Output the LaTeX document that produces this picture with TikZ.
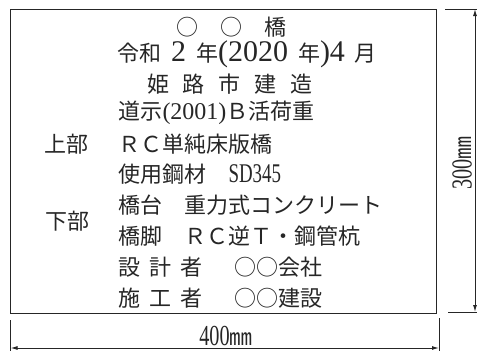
\documentclass[tikz,border=0pt]{standalone}
\usepackage{fontspec}
\setmainfont{Noto Sans CJK JP}
\newfontfamily\lat{Liberation Serif}
\newfontfamily\latn[FakeStretch=0.7]{Liberation Serif}
\usetikzlibrary{positioning,arrows.meta}

\begin{document}
\begin{tikzpicture}[x=1pt, y=-1pt, line width=1pt, color=black!85,
                    plate text/.style={anchor=west, inner sep=0pt, font=\fontsize{22}{22}\selectfont},
                    dim text/.style={inner sep=0pt, font=\fontsize{22}{22}\selectfont},
                    dim line/.style={{Latex[length=7pt,width=4pt]}-{Latex[length=7pt,width=4pt]}}]

  \useasboundingbox (0,0) rectangle (477,351);

  % plate outline
  \draw (10.5,9) rectangle (436,313);

  % heading
  \node[plate text, anchor=center] (name) at (231,27) {○　○　橋};
  \node[plate text, anchor=center] (date) at (247,54)
    {令和{\lat\fontsize{30}{30}\selectfont\hspace{10pt}2\hspace{10pt}}年{\lat\fontsize{30}{30}\selectfont(2020\hspace{10pt}}年{\lat\fontsize{30}{30}\selectfont)4\hspace{10pt}}月};
  \node[plate text, anchor=center] (city) at (230,84)
    {姫\hspace{14pt}路\hspace{14pt}市\hspace{14pt}建\hspace{14pt}造};

  % details
  \node[plate text] (load) at (118,113) {道示{\lat\fontsize{24}{24}\selectfont(2001)}Ｂ活荷重};
  \node[plate text, below=30.8pt of load.west, anchor=west] (deck) {ＲＣ単純床版橋};
  \node[plate text, below=30.8pt of deck.west, anchor=west] (steel)
    {使用鋼材　{\latn\fontsize{27}{27}\selectfont SD345}};
  \node[plate text, below=30.8pt of steel.west, anchor=west] (abut) {橋台　重力式コンクリート};
  \node[plate text, below=30.8pt of abut.west, anchor=west] (pier) {橋脚　ＲＣ逆Ｔ・鋼管杭};
  \node[plate text, below=30.8pt of pier.west, anchor=west] (design)
    {設\hspace{9pt}計\hspace{9pt}者\hspace{32pt}○○会社};
  \node[plate text, below=30.8pt of design.west, anchor=west] (build)
    {施\hspace{9pt}工\hspace{9pt}者\hspace{32pt}○○建設};

  \node[plate text, left=29pt of deck.west, anchor=east] (upper) {上部};
  \node[plate text] (lower) at (45,221) {下部};

  % dimensions
  \coordinate (vt) at (475,9);
  \coordinate (vb) at (475,312);
  \coordinate (hl) at (10.5,348);
  \coordinate (hr) at (439,348);
  \draw (445,9) -- (477,9);
  \draw (448,312) -- (477,312);
  \draw (10.5,320) -- (10.5,351);
  \draw (439,318) -- (439,351);
  \draw[dim line] (vt) -- (vb);
  \draw[dim line] (hl) -- (hr);
  \node[dim text, rotate=90] (height) at (462,163)
    {{\latn\fontsize{29}{29}\selectfont 300}{\fontsize{23}{23}\selectfont ㎜}};
  \node[dim text] (width) at (226,336)
    {{\latn\fontsize{29}{29}\selectfont 400}{\fontsize{23}{23}\selectfont ㎜}};
\end{tikzpicture}
\end{document}
